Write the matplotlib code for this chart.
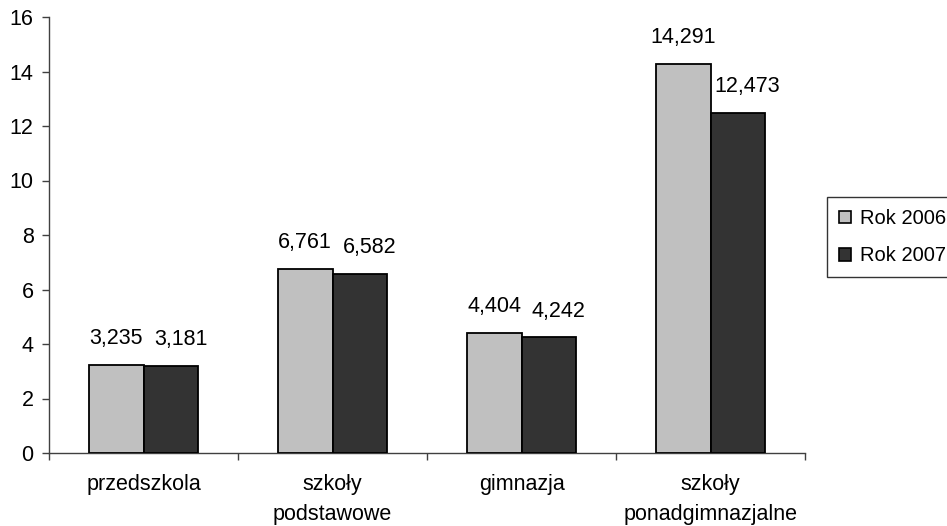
import matplotlib
matplotlib.use("Agg")
import matplotlib.pyplot as plt
from matplotlib.patches import Patch
import numpy as np

categories = ["przedszkola", "szkoły\npodstawowe", "gimnazja", "szkoły\nponadgimnazjalne"]
series_names = ["Rok 2006", "Rok 2007"]
values_2006 = [3.235, 6.761, 4.404, 14.291]
values_2007 = [3.181, 6.582, 4.242, 12.473]
labels_2006 = ["3,235", "6,761", "4,404", "14,291"]
labels_2007 = ["3,181", "6,582", "4,242", "12,473"]
yticks = [0, 2, 4, 6, 8, 10, 12, 14, 16]
colors = ["#C0C0C0", "#333333"]

plt.rcParams['font.family'] = ['Liberation Sans', 'DejaVu Sans']
FS = 15.5
LFS = 14.5

fig = plt.figure(figsize=(9.47, 5.26), dpi=100)
ax = fig.add_axes([49/947, 1-453/526, (805-49)/947, (453-17)/526])

x = np.arange(len(categories))
w = 0.29
ax.bar(x - w/2, values_2006, w, color=colors[0], edgecolor="black", linewidth=1.3, zorder=3)
ax.bar(x + w/2, values_2007, w, color=colors[1], edgecolor="black", linewidth=1.3, zorder=3)

for xi, v, lab in zip(x - w/2, values_2006, labels_2006):
    ax.annotate(lab, (xi, v), xytext=(0, 19), textcoords="offset points",
                ha="center", va="center", fontsize=FS)
for xi, v, lab in zip(x + w/2, values_2007, labels_2007):
    ax.annotate(lab, (xi, v), xytext=(7, 19), textcoords="offset points",
                ha="center", va="center", fontsize=FS)

ax.set_xlim(-0.5, len(categories) - 0.5)
ax.set_ylim(0, 16)
ax.set_yticks(yticks)
ax.set_yticklabels([str(t) for t in yticks], fontsize=FS)
ax.tick_params(axis="y", length=5, width=1, pad=6, color="#404040")

ax.set_xticks(np.arange(-0.5, len(categories), 1.0))
ax.set_xticklabels([])
ax.tick_params(axis="x", which="major", length=5, width=1, color="#404040")
ax.set_xticks(x, minor=True)
ax.set_xticklabels(categories, minor=True, fontsize=FS, linespacing=1.55)
ax.tick_params(axis="x", which="minor", length=0, pad=15)

for s in ["top", "right"]:
    ax.spines[s].set_visible(False)
for s in ["left", "bottom"]:
    ax.spines[s].set_color("#404040")
    ax.spines[s].set_linewidth(1)

handles = [Patch(facecolor=colors[0], edgecolor="black", linewidth=1.2),
           Patch(facecolor=colors[1], edgecolor="black", linewidth=1.2)]
leg = fig.legend(handles, series_names, loc="upper left",
                 bbox_to_anchor=(827/947, 1-197/526), fontsize=LFS,
                 frameon=True, fancybox=False, edgecolor="black",
                 handlelength=0.6, handleheight=0.6, handletextpad=0.42,
                 labelspacing=0.9, borderpad=0.6, borderaxespad=0)
leg.get_frame().set_linewidth(1)

fig.savefig("out.png", dpi=100)
